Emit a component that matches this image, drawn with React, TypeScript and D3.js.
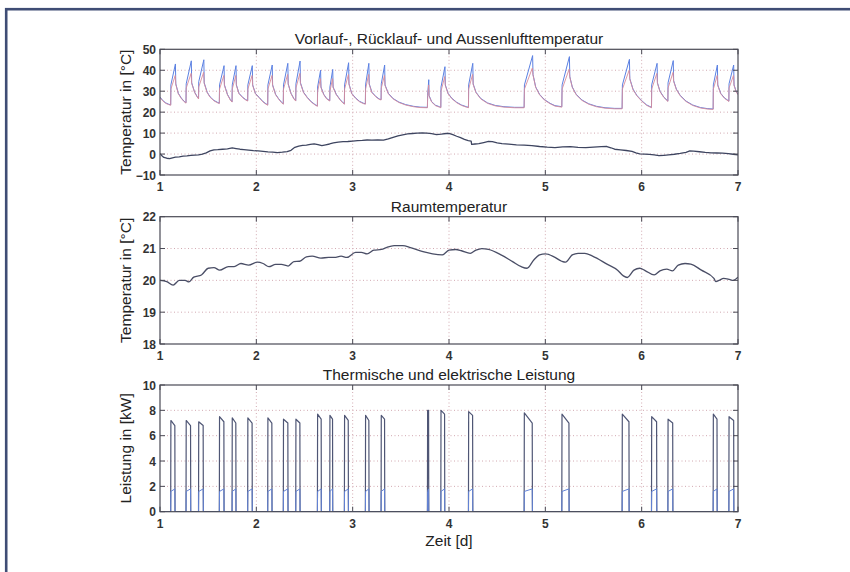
import React from 'react';
import * as d3 from 'd3';

type P = [number, number];

const dayTicks = [1, 2, 3, 4, 5, 6, 7];
const tempTicks = [-10, 0, 10, 20, 30, 40, 50];
const roomTicks = [18, 19, 20, 21, 22];
const powerTicks = [0, 2, 4, 6, 8, 10];

const titleTop = 'Vorlauf-, Rücklauf- und Aussenlufttemperatur';
const titleMid = 'Raumtemperatur';
const titleBot = 'Thermische und elektrische Leistung';
const yLabelTemp = 'Temperatur in [°C]';
const yLabelPower = 'Leistung in [kW]';
const xLabel = 'Zeit [d]';

// Vorlauftemperatur (supply)
const vorlauf: P[] = [
  [1.0, 27.2], [1.03, 25.5], [1.06, 24.4], [1.09, 23.8], [1.111, 23.5],
  [1.113, 33], [1.16, 43], [1.164, 33.5], [1.19, 29], [1.22, 26.8], [1.25, 25.2], [1.27, 24.5],
  [1.272, 33.5], [1.325, 44.5], [1.329, 34], [1.36, 29.5], [1.385, 27.5], [1.4, 26.5],
  [1.402, 34.5], [1.455, 45], [1.459, 34], [1.49, 29.5], [1.52, 27.3], [1.56, 25.6], [1.6, 24.6], [1.616, 24.3],
  [1.618, 33], [1.665, 42.2], [1.669, 33], [1.7, 28.5], [1.73, 26], [1.748, 25],
  [1.75, 33], [1.789, 42.2], [1.793, 33], [1.82, 29], [1.86, 27], [1.89, 26], [1.91, 25.5],
  [1.912, 33], [1.958, 42.2], [1.962, 33], [1.99, 29], [2.03, 27], [2.07, 25], [2.1, 24], [2.118, 23.5],
  [2.12, 33], [2.165, 42.5], [2.169, 33], [2.2, 28.5], [2.23, 26.5], [2.26, 24.8], [2.28, 24],
  [2.282, 33], [2.327, 43.3], [2.331, 33.5], [2.36, 29], [2.39, 26.5], [2.409, 25.5],
  [2.411, 33.5], [2.454, 44.4], [2.458, 34], [2.49, 29.5], [2.53, 27], [2.57, 25], [2.61, 23.6], [2.634, 23],
  [2.636, 32], [2.667, 40], [2.671, 32], [2.7, 28.5], [2.73, 26.5], [2.762, 25.5],
  [2.764, 32], [2.793, 40.4], [2.797, 32], [2.83, 28.5], [2.87, 26], [2.9, 24.5], [2.914, 24],
  [2.916, 33], [2.958, 43.6], [2.962, 33.5], [2.99, 29], [3.03, 26.8], [3.07, 25.2], [3.11, 24.3], [3.132, 24],
  [3.134, 33], [3.168, 43.3], [3.172, 33.5], [3.2, 29.5], [3.24, 27.5], [3.275, 26.3], [3.295, 26],
  [3.297, 33.5], [3.332, 42.5], [3.336, 33], [3.37, 29], [3.42, 26.5], [3.48, 24.8], [3.55, 23.6], [3.63, 22.8], [3.7, 22.4], [3.776, 22.3],
  [3.778, 28], [3.79, 35.5], [3.793, 28], [3.82, 25], [3.86, 23.3], [3.9, 22.6], [3.915, 22.3],
  [3.917, 32], [3.958, 41.7], [3.962, 33], [3.99, 29], [4.03, 26.6], [4.08, 24.7], [4.13, 23.4], [4.18, 22.6], [4.202, 22.3],
  [4.204, 33], [4.247, 43.3], [4.251, 33.5], [4.28, 29.5], [4.33, 26.5], [4.4, 24.4], [4.48, 23.2], [4.57, 22.6], [4.68, 22.3], [4.78, 22.3],
  [4.783, 33], [4.868, 47], [4.872, 38], [4.9, 32], [4.94, 28.5], [4.99, 26], [5.05, 24.2], [5.1, 23.1], [5.171, 22.6],
  [5.174, 33], [5.25, 46.5], [5.254, 37], [5.28, 32], [5.32, 28.5], [5.38, 25.8], [5.45, 24], [5.53, 22.8], [5.62, 22.1], [5.72, 21.8], [5.797, 21.8],
  [5.8, 33], [5.873, 45.2], [5.877, 36], [5.91, 31], [5.95, 28], [6.0, 25.5], [6.05, 23.5], [6.102, 22.3],
  [6.104, 33], [6.16, 43.3], [6.164, 34], [6.19, 30], [6.23, 27.2], [6.272, 25.3],
  [6.274, 34], [6.328, 44.6], [6.332, 35], [6.36, 31], [6.4, 28], [6.46, 25.3], [6.53, 23.4], [6.61, 22.2], [6.68, 21.7], [6.742, 21.5],
  [6.744, 33], [6.786, 42.5], [6.79, 33], [6.82, 29], [6.86, 26.8], [6.905, 25.3],
  [6.907, 33.5], [6.955, 42.5], [6.959, 33], [6.98, 30], [7.0, 28.5],
];

// Ruecklauftemperatur (return)
const ruecklauf: P[] = [
  [1.0, 27.0], [1.03, 25.3], [1.06, 24.2], [1.09, 23.6], [1.111, 23.3],
  [1.113, 31], [1.158, 37.5], [1.164, 33.2], [1.19, 28.8], [1.22, 26.6], [1.25, 25.0], [1.27, 24.3],
  [1.272, 31.5], [1.323, 38.5], [1.329, 33.7], [1.36, 29.3], [1.385, 27.3], [1.4, 26.3],
  [1.402, 32], [1.453, 39], [1.459, 33.7], [1.49, 29.3], [1.52, 27.1], [1.56, 25.4], [1.6, 24.4], [1.616, 24.1],
  [1.618, 31], [1.663, 37.5], [1.669, 32.7], [1.7, 28.3], [1.73, 25.8], [1.748, 24.8],
  [1.75, 31], [1.787, 37.5], [1.793, 32.7], [1.82, 28.8], [1.86, 26.8], [1.89, 25.8], [1.91, 25.3],
  [1.912, 31], [1.956, 37.5], [1.962, 32.7], [1.99, 28.8], [2.03, 26.8], [2.07, 24.8], [2.1, 23.8], [2.118, 23.3],
  [2.12, 31], [2.163, 37.5], [2.169, 32.7], [2.2, 28.3], [2.23, 26.3], [2.26, 24.6], [2.28, 23.8],
  [2.282, 31], [2.325, 38], [2.331, 33.2], [2.36, 28.8], [2.39, 26.3], [2.409, 25.3],
  [2.411, 31.5], [2.452, 38.5], [2.458, 33.7], [2.49, 29.3], [2.53, 26.8], [2.57, 24.8], [2.61, 23.4], [2.634, 22.8],
  [2.636, 30], [2.665, 36], [2.671, 31.7], [2.7, 28.3], [2.73, 26.3], [2.762, 25.3],
  [2.764, 30], [2.791, 36], [2.797, 31.7], [2.83, 28.3], [2.87, 25.8], [2.9, 24.3], [2.914, 23.8],
  [2.916, 31], [2.956, 38], [2.962, 33.2], [2.99, 28.8], [3.03, 26.6], [3.07, 25.0], [3.11, 24.1], [3.132, 23.8],
  [3.134, 31], [3.166, 38], [3.172, 33.2], [3.2, 29.3], [3.24, 27.3], [3.275, 26.1], [3.295, 25.8],
  [3.297, 31.5], [3.33, 37.5], [3.336, 32.7], [3.37, 28.8], [3.42, 26.3], [3.48, 24.6], [3.55, 23.4], [3.63, 22.6], [3.7, 22.2], [3.776, 22.1],
  [3.778, 27], [3.789, 33], [3.793, 27.7], [3.82, 24.8], [3.86, 23.1], [3.9, 22.4], [3.915, 22.1],
  [3.917, 30], [3.956, 37], [3.962, 32.7], [3.99, 28.8], [4.03, 26.4], [4.08, 24.5], [4.13, 23.2], [4.18, 22.4], [4.202, 22.1],
  [4.204, 31], [4.245, 38], [4.251, 33.2], [4.28, 29.3], [4.33, 26.3], [4.4, 24.2], [4.48, 23.0], [4.57, 22.4], [4.68, 22.1], [4.78, 22.1],
  [4.783, 31], [4.865, 41], [4.872, 37.7], [4.9, 31.8], [4.94, 28.3], [4.99, 25.8], [5.05, 24.0], [5.1, 22.9], [5.171, 22.4],
  [5.174, 31], [5.247, 40.5], [5.254, 36.7], [5.28, 31.8], [5.32, 28.3], [5.38, 25.6], [5.45, 23.8], [5.53, 22.6], [5.62, 21.9], [5.72, 21.6], [5.797, 21.6],
  [5.8, 31], [5.87, 40], [5.877, 35.7], [5.91, 30.8], [5.95, 27.8], [6.0, 25.3], [6.05, 23.3], [6.102, 22.1],
  [6.104, 31], [6.158, 38.5], [6.164, 33.7], [6.19, 29.8], [6.23, 27.0], [6.272, 25.1],
  [6.274, 31.5], [6.326, 39], [6.332, 34.7], [6.36, 30.8], [6.4, 27.8], [6.46, 25.1], [6.53, 23.2], [6.61, 22.0], [6.68, 21.5], [6.742, 21.3],
  [6.744, 31], [6.784, 37.5], [6.79, 32.7], [6.82, 28.8], [6.86, 26.6], [6.905, 25.1],
  [6.907, 31.5], [6.953, 37.5], [6.959, 32.7], [6.98, 29.8], [7.0, 28.3],
];

// Aussenlufttemperatur (outdoor air)
const aussenluft: P[] = [
  [1.0, 0.2], [1.02, -0.8], [1.04, -1.6], [1.07, -2.0], [1.1, -2.2], [1.13, -1.8], [1.16, -1.5], [1.2, -1.3],
  [1.24, -1.0], [1.28, -0.9], [1.32, -0.6], [1.36, -0.5], [1.4, -0.4], [1.44, 0.0], [1.48, 0.6], [1.52, 1.5],
  [1.56, 2.0], [1.6, 2.1], [1.65, 2.3], [1.7, 2.5], [1.75, 2.9], [1.79, 2.6], [1.83, 2.3], [1.87, 2.1],
  [1.92, 1.9], [1.97, 1.6], [2.02, 1.5], [2.07, 1.3], [2.12, 1.0], [2.17, 0.9], [2.22, 0.7], [2.27, 0.9],
  [2.32, 1.2], [2.36, 1.8], [2.4, 3.2], [2.44, 3.8], [2.48, 4.1], [2.52, 4.3], [2.56, 4.6], [2.6, 4.9],
  [2.64, 4.5], [2.68, 4.0], [2.72, 4.4], [2.76, 4.8], [2.8, 5.3], [2.85, 5.7], [2.9, 5.9], [2.95, 6.0],
  [3.0, 6.2], [3.05, 6.4], [3.1, 6.5], [3.15, 6.7], [3.2, 6.6], [3.26, 6.7], [3.32, 6.6], [3.37, 7.2],
  [3.42, 8.0], [3.47, 8.7], [3.52, 9.2], [3.57, 9.6], [3.62, 9.8], [3.67, 10.0], [3.72, 10.1], [3.77, 10.0],
  [3.82, 9.7], [3.87, 9.3], [3.92, 9.5], [3.97, 9.8], [4.0, 9.9], [4.04, 9.3], [4.08, 8.5], [4.12, 7.8],
  [4.16, 7.0], [4.2, 6.4], [4.23, 6.2], [4.235, 4.6], [4.27, 4.8], [4.31, 5.0], [4.36, 5.5], [4.41, 6.0],
  [4.45, 5.9], [4.5, 5.3], [4.55, 5.0], [4.62, 4.7], [4.7, 4.4], [4.78, 4.3], [4.86, 4.0], [4.94, 3.6],
  [5.02, 3.3], [5.1, 3.1], [5.18, 3.4], [5.26, 3.5], [5.34, 3.2], [5.42, 3.1], [5.5, 3.3], [5.58, 3.5],
  [5.64, 3.6], [5.68, 3.0], [5.72, 2.3], [5.78, 2.0], [5.84, 1.7], [5.9, 1.3], [5.94, 0.6], [5.98, 0.1],
  [6.03, 0.0], [6.08, -0.2], [6.13, -0.4], [6.18, -0.8], [6.23, -0.6], [6.28, -0.4], [6.34, -0.1], [6.4, 0.3],
  [6.46, 0.8], [6.5, 1.5], [6.54, 1.4], [6.6, 1.1], [6.66, 0.8], [6.72, 0.6], [6.78, 0.5], [6.84, 0.4],
  [6.9, 0.2], [6.95, -0.1], [7.0, -0.4],
];

// Raumtemperatur (room)
const raum: P[] = [
  [1.0, 20.0], [1.07, 19.96], [1.136, 19.85], [1.2, 20.0], [1.26, 20.0], [1.3, 19.95], [1.35, 20.1],
  [1.43, 20.17], [1.5, 20.38], [1.56, 20.4], [1.62, 20.32], [1.71, 20.43], [1.77, 20.43], [1.84, 20.53],
  [1.92, 20.48], [2.01, 20.57], [2.07, 20.53], [2.13, 20.43], [2.2, 20.5], [2.26, 20.5], [2.33, 20.45],
  [2.39, 20.59], [2.45, 20.6], [2.52, 20.74], [2.58, 20.76], [2.67, 20.7], [2.75, 20.72], [2.81, 20.72],
  [2.88, 20.76], [2.94, 20.72], [3.03, 20.88], [3.09, 20.88], [3.15, 20.83], [3.22, 20.95], [3.3, 20.97],
  [3.35, 21.03], [3.43, 21.09], [3.52, 21.09], [3.6, 21.03], [3.73, 20.9], [3.83, 20.83], [3.93, 20.8],
  [4.0, 20.95], [4.07, 20.97], [4.13, 20.93], [4.22, 20.85], [4.28, 20.95], [4.34, 21.0], [4.41, 20.97],
  [4.54, 20.8], [4.66, 20.59], [4.75, 20.43], [4.81, 20.38], [4.88, 20.64], [4.94, 20.8], [5.0, 20.83],
  [5.09, 20.74], [5.17, 20.6], [5.21, 20.57], [5.28, 20.8], [5.34, 20.85], [5.41, 20.85], [5.49, 20.76],
  [5.64, 20.51], [5.75, 20.32], [5.81, 20.14], [5.85, 20.09], [5.92, 20.32], [5.98, 20.38], [6.04, 20.3],
  [6.13, 20.17], [6.19, 20.3], [6.26, 20.35], [6.32, 20.3], [6.38, 20.48], [6.45, 20.53], [6.51, 20.51],
  [6.62, 20.32], [6.75, 20.06], [6.77, 19.96], [6.81, 20.01], [6.85, 20.06], [6.91, 20.03], [6.95, 20.0],
  [7.0, 20.1],
];

// Heat pump on/off periods and power levels
const pulseOn = [1.111, 1.27, 1.4, 1.616, 1.748, 1.91, 2.118, 2.28, 2.409, 2.634, 2.762, 2.914, 3.132, 3.295, 3.776, 3.915, 4.202, 4.78, 5.171, 5.797, 6.102, 6.272, 6.742, 6.905];
const pulseOff = [1.156, 1.319, 1.45, 1.665, 1.789, 1.958, 2.163, 2.329, 2.454, 2.675, 2.793, 2.956, 3.17, 3.333, 3.79, 3.956, 4.247, 4.866, 5.247, 5.87, 6.157, 6.324, 6.784, 6.957];
const thermStart = [7.2, 7.2, 7.1, 7.5, 7.4, 7.4, 7.4, 7.3, 7.3, 7.7, 7.6, 7.6, 7.6, 7.6, 8.0, 8.0, 7.9, 7.8, 7.7, 7.7, 7.5, 7.3, 7.7, 7.5];
const thermEnd = [6.8, 6.8, 6.8, 7.1, 7.0, 7.0, 7.0, 7.0, 7.0, 7.3, 7.3, 7.2, 7.2, 7.3, 8.0, 7.7, 7.6, 7.0, 7.0, 7.1, 7.1, 7.0, 7.3, 7.2];
const elecStart = [1.6, 1.6, 1.6, 1.6, 1.6, 1.6, 1.6, 1.6, 1.6, 1.6, 1.6, 1.6, 1.6, 1.6, 1.6, 1.6, 1.6, 1.6, 1.6, 1.6, 1.6, 1.6, 1.6, 1.6];
const elecEnd = [1.8, 1.8, 1.8, 1.8, 1.8, 1.8, 1.8, 1.8, 1.8, 1.8, 1.8, 1.8, 1.8, 1.8, 1.8, 1.8, 1.8, 1.8, 1.8, 1.8, 1.8, 1.8, 1.8, 1.8];

const FONT = '"Liberation Sans", Arial, Helvetica, sans-serif';
const GRID = '#d2a9b1';
const AX = '#4a4a55';

const x = d3.scaleLinear().domain([1, 7]).range([160, 738]);

function buildPower(levStart: number[], levEnd: number[]): P[] {
  const pts: P[] = [[1, 0]];
  pulseOn.forEach((on, i) => {
    const off = pulseOff[i];
    pts.push([on, 0], [on + 0.002, levStart[i]], [off - 0.002, levEnd[i]], [off, 0]);
  });
  pts.push([7, 0]);
  return pts;
}

interface PanelProps {
  id: string;
  top: number;
  bottom: number;
  domain: [number, number];
  yticks: number[];
  title: string;
  ylabel: string;
  series: { data: P[]; color: string; width: number; smooth?: boolean }[];
}

function Panel({ id, top, bottom, domain, yticks, title, ylabel, series }: PanelProps) {
  const y = d3.scaleLinear().domain(domain).range([bottom, top]);
  const line = d3.line<P>().x((d) => x(d[0])).y((d) => y(d[1]));
  const smoothLine = d3.line<P>().x((d) => x(d[0])).y((d) => y(d[1])).curve(d3.curveMonotoneX);
  const x0 = x.range()[0];
  const x1 = x.range()[1];
  const fmt = (v: number) => (v < 0 ? '\u2212' + Math.abs(v) : String(v));
  return (
    <g>
      <clipPath id={id}>
        <rect x={x0} y={top} width={x1 - x0} height={bottom - top} />
      </clipPath>
      {dayTicks.slice(1, -1).map((t) => (
        <line key={'gx' + t} x1={x(t)} x2={x(t)} y1={top} y2={bottom} stroke={GRID} strokeWidth={1} strokeDasharray="1 2.5" />
      ))}
      {yticks.slice(1, -1).map((v) => (
        <line key={'gy' + v} x1={x0} x2={x1} y1={y(v)} y2={y(v)} stroke={GRID} strokeWidth={1} strokeDasharray="1 2.5" />
      ))}
      <g clipPath={`url(#${id})`}>
        {series.map((s, i) => (
          <path
            key={i}
            d={(s.smooth ? smoothLine(s.data) : line(s.data)) || ''}
            fill="none"
            stroke={s.color}
            strokeWidth={s.width}
            strokeLinejoin="round"
          />
        ))}
      </g>
      <rect x={x0} y={top} width={x1 - x0} height={bottom - top} fill="none" stroke={AX} strokeWidth={1.2} />
      {dayTicks.map((t) => (
        <g key={'tx' + t}>
          <line x1={x(t)} x2={x(t)} y1={bottom} y2={bottom - 5} stroke={AX} />
          <line x1={x(t)} x2={x(t)} y1={top} y2={top + 5} stroke={AX} />
          <text x={x(t)} y={bottom + 16} textAnchor="middle" fontFamily={FONT} fontSize={12} fontWeight="bold" fill="#333">
            {t}
          </text>
        </g>
      ))}
      {yticks.map((v) => (
        <g key={'ty' + v}>
          <line x1={x0} x2={x0 + 5} y1={y(v)} y2={y(v)} stroke={AX} />
          <line x1={x1} x2={x1 - 5} y1={y(v)} y2={y(v)} stroke={AX} />
          <text x={x0 - 4} y={y(v) + 4.5} textAnchor="end" fontFamily={FONT} fontSize={12} fontWeight="bold" fill="#333">
            {fmt(v)}
          </text>
        </g>
      ))}
      <text x={(x0 + x1) / 2} y={top - 5} textAnchor="middle" fontFamily={FONT} fontSize={15.5} fill="#222">
        {title}
      </text>
      <text
        transform={`translate(131,${(top + bottom) / 2}) rotate(-90)`}
        textAnchor="middle"
        fontFamily={FONT}
        fontSize={15.5}
        fill="#222"
      >
        {ylabel}
      </text>
    </g>
  );
}

export default function App() {
  const thermal = buildPower(thermStart, thermEnd);
  const electric = buildPower(elecStart, elecEnd);
  return (
    <svg width={850} height={572} style={{ position: 'absolute', left: 0, top: 0, background: '#fff' }}>
      <rect x={0} y={0} width={850} height={572} fill="#fff" />
      <rect x={6.2} y={9.2} width={900} height={700} fill="none" stroke="#3f4d75" strokeWidth={2.6} />
      <Panel
        id="c1"
        top={49.3}
        bottom={175}
        domain={[-10, 50]}
        yticks={tempTicks}
        title={titleTop}
        ylabel={yLabelTemp}
        series={[
          { data: vorlauf, color: '#5b80e2', width: 1 },
          { data: ruecklauf, color: '#d88c9c', width: 0.9 },
          { data: aussenluft, color: '#3e4560', width: 1.3 },
        ]}
      />
      <Panel
        id="c2"
        top={216.7}
        bottom={344}
        domain={[18, 22]}
        yticks={roomTicks}
        title={titleMid}
        ylabel={yLabelTemp}
        series={[{ data: raum, color: '#4a4e66', width: 1.3, smooth: true }]}
      />
      <Panel
        id="c3"
        top={385}
        bottom={511.7}
        domain={[0, 10]}
        yticks={powerTicks}
        title={titleBot}
        ylabel={yLabelPower}
        series={[
          { data: thermal, color: '#4f5675', width: 1.2 },
          { data: electric, color: '#6383d6', width: 1 },
        ]}
      />
      <text x={449} y={546} textAnchor="middle" fontFamily={FONT} fontSize={15.5} fill="#222">
        {xLabel}
      </text>
    </svg>
  );
}
